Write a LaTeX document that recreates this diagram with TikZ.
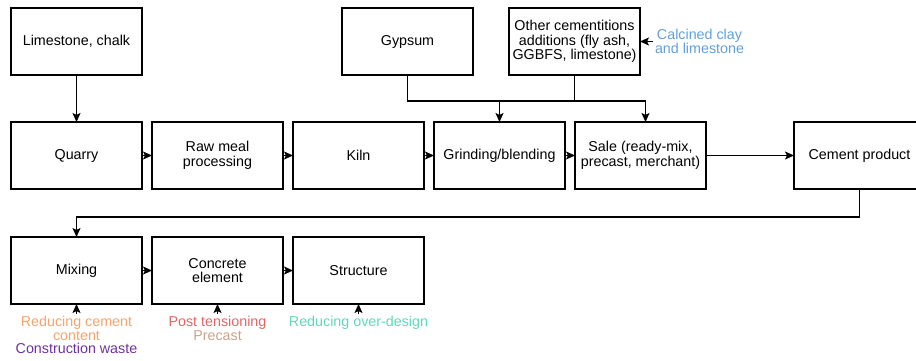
\documentclass[tikz,border=0pt]{standalone}
\usepackage{fontspec}
\setmainfont{Liberation Sans}
\usetikzlibrary{positioning, arrows.meta}
\definecolor{clayblue}{HTML}{62A0DA}
\definecolor{cementorange}{HTML}{F4A46C}
\definecolor{wastepurple}{HTML}{7030A0}
\definecolor{tensionred}{HTML}{E06666}
\definecolor{precasttan}{HTML}{C8A38A}
\definecolor{designteal}{HTML}{5FD8BE}
\tikzset{
    base/.style={draw, line width=1.1pt, rectangle, outer sep=0pt, minimum width=131pt, minimum height=67pt, inner sep=2pt, align=center, font=\fontsize{14.3}{14.5}\selectfont},
    lbl/.style={inner sep=2pt, outer sep=0pt, align=center, font=\fontsize{14.3}{13.8}\selectfont},
    arrow/.style={line width=1.1pt, -{Stealth[length=9pt, width=8pt, inset=2pt]}}
}

\begin{document}
\begin{tikzpicture}[x=1pt, y=-1pt]
\useasboundingbox (0,0) rectangle (916,360);
% raw materials
\node[base] (ls) at (76.5,41.5) {Limestone, chalk};
\node[base] (gy) at (407.5,41.5) {Gypsum};
\node[base, right=36pt of gy] (oc) {Other cementitions\\additions (fly ash,\\GGBFS, limestone)};
\node[lbl, text=clayblue, right=13pt of oc] (cc) {Calcined clay\\and limestone};
% cement production
\node[base, below=47pt of ls] (q) {Quarry};
\node[base, right=10pt of q] (rm) {Raw meal\\processing};
\node[base, right=10pt of rm] (k) {Kiln};
\node[base, right=10pt of k] (gb) {Grinding/blending};
\node[base, right=10pt of gb] (sl) {Sale (ready-mix,\\precast, merchant)};
\node[base, right=88pt of sl] (cp) {Cement product};
% concrete use
\node[base, below=48pt of q] (mx) {Mixing};
\node[base, right=10pt of mx] (ce) {Concrete\\element};
\node[base, right=10pt of ce] (st) {Structure};
\node[lbl, below=10pt of mx] (lm) {\textcolor{cementorange}{Reducing cement}\\\textcolor{cementorange}{content}\\\textcolor{wastepurple}{Construction waste}};
\node[lbl, below=10pt of ce] (lc) {\textcolor{tensionred}{Post tensioning}\\\textcolor{precasttan}{Precast}};
\node[lbl, text=designteal, below=10pt of st] (ls2) {Reducing over-design};
\coordinate (bus) at (0,101);
\draw[arrow] (ls) -- (q);
\draw[arrow] (q) -- (rm);
\draw[arrow] (rm) -- (k);
\draw[arrow] (k) -- (gb);
\draw[arrow] (gb) -- (sl);
\draw[arrow] (sl) -- (cp);
\draw[arrow] (gy.south) |- ([xshift=5pt]sl.north |- bus) -- ([xshift=5pt]sl.north);
\draw[line width=1.1pt] (oc.south) -- (oc.south |- bus);
\draw[arrow] (gb.north |- bus) -- (gb.north);
\draw[arrow] (cc) -- (oc);
\draw[arrow] (cp.south) -- ++(0,28) -| (mx.north);
\draw[arrow] (mx) -- (ce);
\draw[arrow] (ce) -- (st);
\draw[arrow] (lm) -- (mx);
\draw[arrow] (lc) -- (ce);
\draw[arrow] (ls2) -- (st);
\end{tikzpicture}
\end{document}
